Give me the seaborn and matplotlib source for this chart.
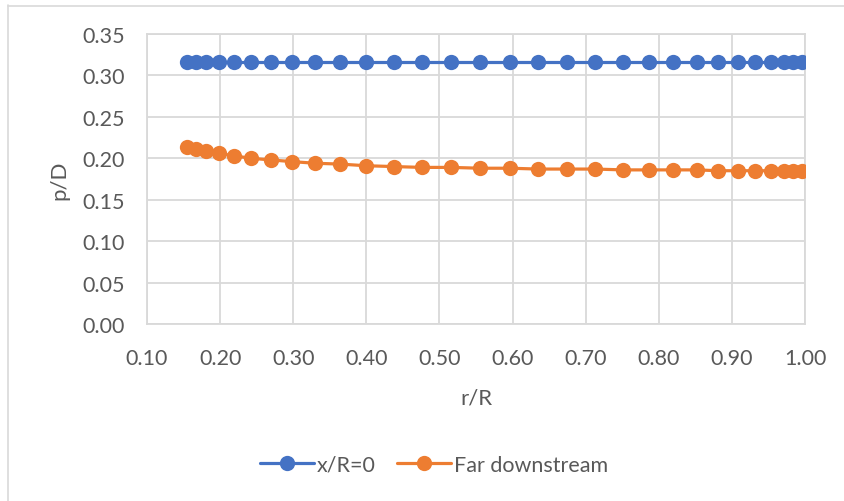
import matplotlib
matplotlib.use("Agg")
import matplotlib.pyplot as plt
from matplotlib.lines import Line2D
import numpy as np
import pandas as pd
import seaborn as sns

# Radial stations r/R
r_over_R = [0.155, 0.167, 0.181, 0.198, 0.219, 0.242, 0.270, 0.298, 0.330, 0.364,
            0.400, 0.438, 0.476, 0.516, 0.556, 0.597, 0.635, 0.675, 0.713, 0.751,
            0.787, 0.820, 0.852, 0.881, 0.908, 0.932, 0.953, 0.971, 0.984, 0.996]

# Pitch-to-diameter ratio at the rotor plane
pd_rotor = [0.316] * 30

# Pitch-to-diameter ratio far downstream
pd_far = [0.214, 0.211, 0.209, 0.206, 0.203, 0.200, 0.198, 0.196, 0.194, 0.193,
          0.191, 0.190, 0.189, 0.189, 0.188, 0.188, 0.187, 0.187, 0.187, 0.186,
          0.186, 0.186, 0.186, 0.185, 0.185, 0.185, 0.185, 0.185, 0.185, 0.185]

series_names = ["x/R=0", "Far downstream"]
series_colors = ["#4472C4", "#ED7D31"]

x_ticks = [0.10, 0.20, 0.30, 0.40, 0.50, 0.60, 0.70, 0.80, 0.90, 1.00]
y_ticks = [0.00, 0.05, 0.10, 0.15, 0.20, 0.25, 0.30, 0.35]

df = pd.DataFrame({
    "r/R": r_over_R * 2,
    "p/D": pd_rotor + pd_far,
    "series": [series_names[0]] * len(r_over_R) + [series_names[1]] * len(r_over_R),
})

sns.set_theme(style="white")
plt.rcParams["font.family"] = ["Lato", "DejaVu Sans"]
text_color = "#595959"
grid_color = "#D9D9D9"

fig = plt.figure(figsize=(8.45, 5.02), dpi=100)
ax = fig.add_axes([147 / 845, 1 - 325 / 502, (805 - 147) / 845, (325 - 35) / 502])

sns.lineplot(
    data=df, x="r/R", y="p/D", hue="series", hue_order=series_names,
    palette=series_colors, marker="o", markersize=11, markeredgewidth=0,
    linewidth=2.3, ax=ax, legend=False, zorder=3,
)

ax.set_xlim(0.10, 1.00)
ax.set_ylim(0.00, 0.35)
ax.set_xticks(x_ticks)
ax.set_yticks(y_ticks)
ax.set_xticklabels([f"{v:.2f}" for v in x_ticks])
ax.set_yticklabels([f"{v:.2f}" for v in y_ticks])
ax.tick_params(axis="both", length=0, labelsize=15.5, labelcolor=text_color)
ax.tick_params(axis="x", pad=17)
ax.tick_params(axis="y", pad=16)
ax.grid(True, color=grid_color, linewidth=1.3)
ax.set_axisbelow(True)
for sp in ax.spines.values():
    sp.set_color(grid_color)
    sp.set_linewidth(1.3)

ax.set_xlabel("r/R", fontsize=16, color=text_color, labelpad=14)
ax.set_ylabel("p/D", fontsize=16, color=text_color, labelpad=9)

handles = [
    Line2D([0], [0], color=c, marker="o", markersize=11, markeredgewidth=0, linewidth=2.3)
    for c in series_colors
]
fig.legend(
    handles, series_names, loc="center", bbox_to_anchor=(434 / 845, 1 - 466 / 502),
    ncol=2, frameon=False, fontsize=15.5, labelcolor=text_color,
    handlelength=2.5, columnspacing=1.0, handletextpad=0.15,
)

# Chart-area border
fig.add_artist(Line2D([8 / 845, 1.0], [1 - 6.5 / 502] * 2, color=grid_color, linewidth=1.2))
fig.add_artist(Line2D([8.5 / 845] * 2, [0.0, 1 - 6 / 502], color=grid_color, linewidth=1.2))

fig.savefig("out.png", dpi=100, facecolor="white")
